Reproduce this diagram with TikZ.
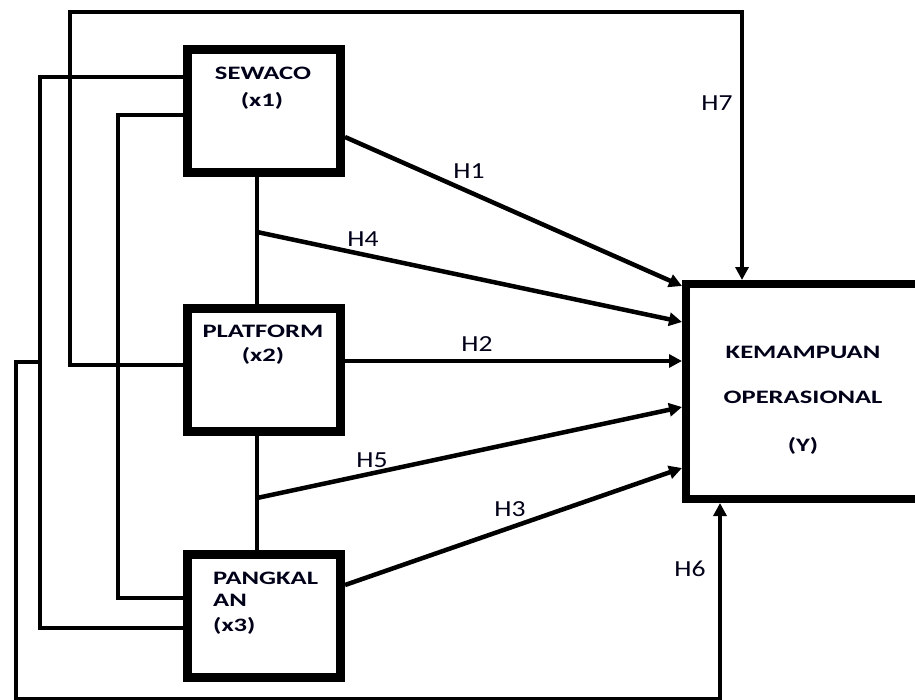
\documentclass[tikz,border=0pt]{standalone}
\usepackage{fontspec}
\setmainfont{Carlito}
\newfontfamily\bxf[FakeStretch=1.4]{Carlito}
\newfontfamily\lbf[FakeStretch=1.2]{Carlito}
\usetikzlibrary{arrows.meta}
\begin{document}
\begin{tikzpicture}[x=1pt,y=-1pt,
  box/.style={draw=black,line width=9pt,fill=white,inner sep=0pt,minimum width=153pt,minimum height=123pt},
  ybox/.style={draw=black,line width=8pt,fill=white,inner sep=0pt,minimum width=233pt,minimum height=215pt},
  conn/.style={draw=black,line width=4.5pt,line join=miter},
  arr/.style={conn,-{Triangle[length=13pt,width=13pt]}},
  btxt/.style={inner sep=0pt,font=\bxf\bfseries\fontsize{19}{22}\selectfont,text=black!90!blue},
  ltxt/.style={inner sep=0pt,font=\lbf\fontsize{23}{26}\selectfont,text=black!90!blue}]
\useasboundingbox (0,0) rectangle (915,699);
\clip (0,0) rectangle (915,699);
\fill[white] (0,0) rectangle (915,699);

% boxes
\node[box] (S) at (264,110.5) {};
\node[box] (P) at (264,369.5) {};
\node[box] (K) at (264,616) {};
\node[ybox] (Y) at (802.5,391.5) {};

% box texts
\node[btxt,anchor=base] (s1) at (263,79) {SEWACO};
\node[btxt,anchor=base] (s2) at (262,106) {(x1)};
\node[btxt,anchor=base] (p1) at (263,337) {PLATFORM};
\node[btxt,anchor=base] (p2) at (263,361) {(x2)};
\node[btxt,anchor=base west] (k1) at (213,584) {PANGKAL};
\node[btxt,anchor=base west] (k2) at (213,606) {AN};
\node[btxt,anchor=base west] (k3) at (213,631) {(x3)};
\node[btxt,anchor=base] (y1) at (803,358) {KEMAMPUAN};
\node[btxt,anchor=base] (y2) at (803,403) {OPERASIONAL};
\node[btxt,anchor=base] (y3) at (803,451) {(Y)};

% junctions
\coordinate (j1) at (257,232);
\coordinate (j2) at (257,498);

% connecting lines on the left
\draw[conn] (S.west |- 0,77) -- (40,77) -- (40,628) -- (K.west |- 0,628);
\draw[conn] (S.west |- 0,115) -- (118,115) -- (118,598) -- (K.west |- 0,598);
\draw[conn] (257,0 |- S.south) -- (257,0 |- P.north);
\draw[conn] (257,0 |- P.south) -- (257,0 |- K.north);

% H7
\draw[arr] (P.west |- 0,365) -- (70,365) -- (70,12) -- (742,12) -- (742,0 |- Y.north);
% H6
\draw[arr] (40,362) -- (16,362) -- (16,699) -- (720,699) -- (720,0 |- Y.south);

% hypotheses arrows
\draw[arr] (S.east |- 0,137) -- (Y.west |- 0,286);
\draw[arr] (j1) -- (Y.west |- 0,322);
\draw[arr] (P.east |- 0,361) -- (Y.west |- 0,361);
\draw[arr] (j2) -- (Y.west |- 0,407);
\draw[arr] (K.east |- 0,585) -- (Y.west |- 0,468);

% labels
\node[ltxt,anchor=base] (h1) at (469,178) {H1};
\node[ltxt,anchor=base] (h4) at (363,246) {H4};
\node[ltxt,anchor=base] (h2) at (477,351) {H2};
\node[ltxt,anchor=base] (h5) at (372,467) {H5};
\node[ltxt,anchor=base] (h3) at (510,516) {H3};
\node[ltxt,anchor=base] (h6) at (690,576) {H6};
\node[ltxt,anchor=base] (h7) at (717,110) {H7};
\end{tikzpicture}
\end{document}
